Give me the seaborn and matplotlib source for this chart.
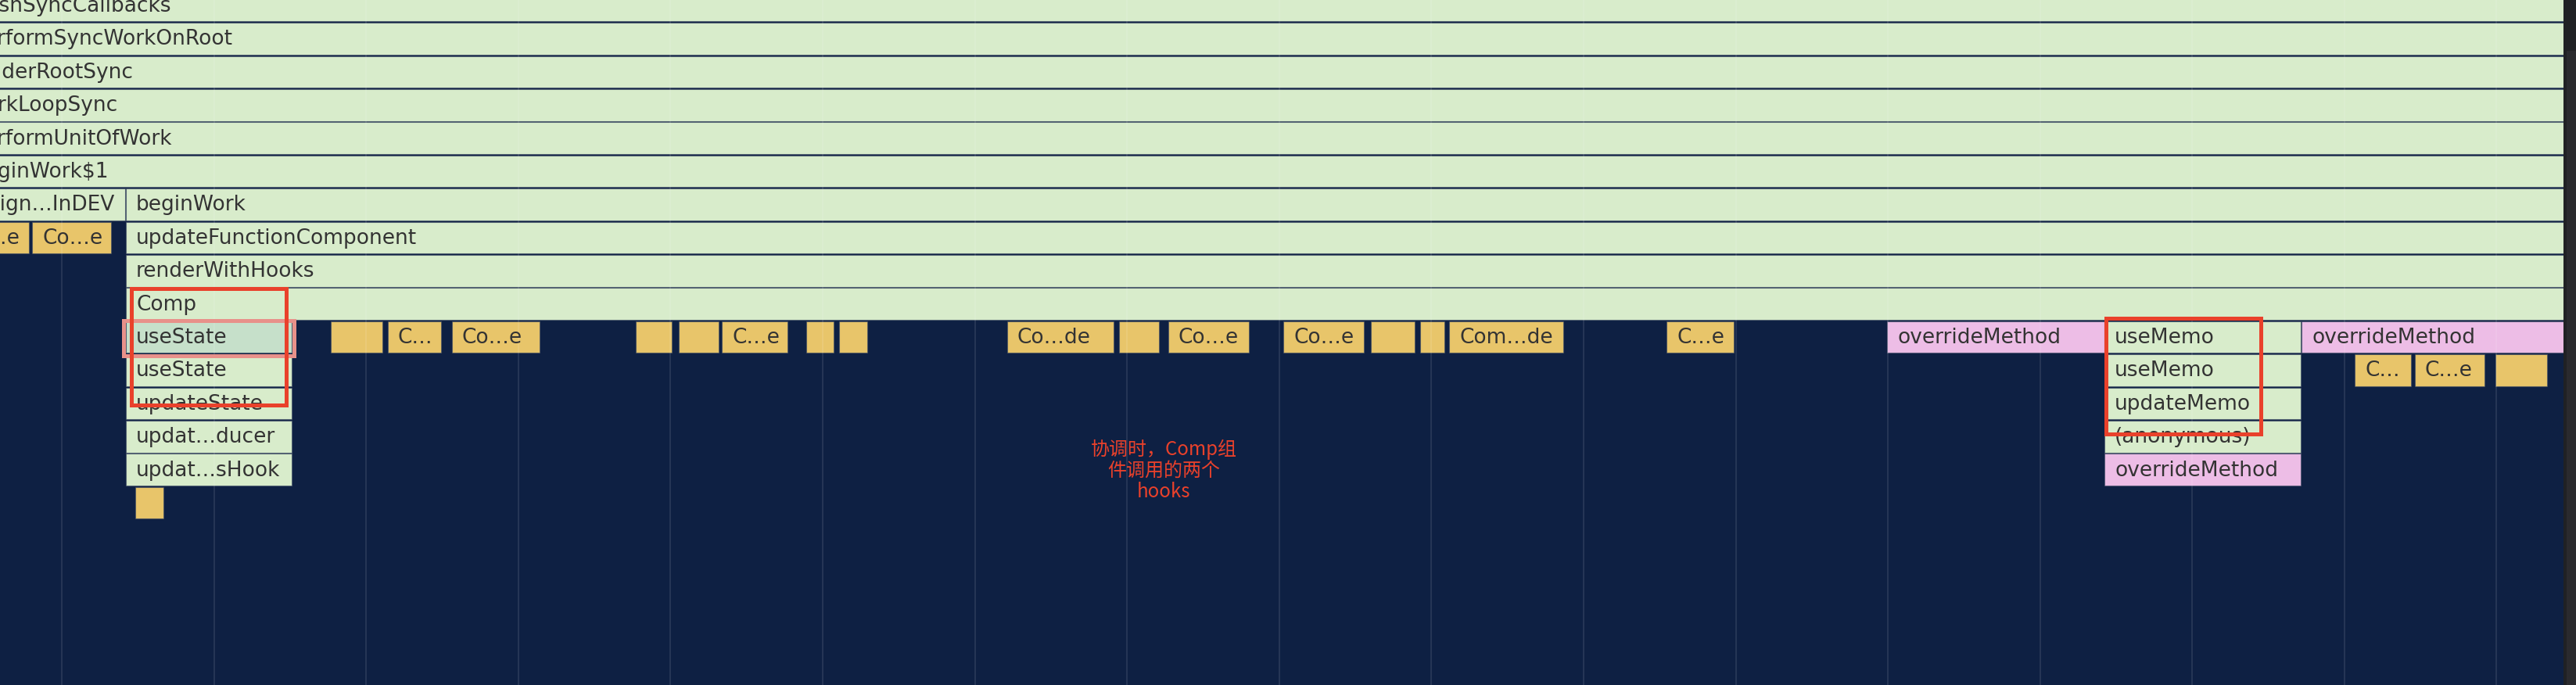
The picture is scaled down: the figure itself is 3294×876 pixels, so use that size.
import pandas as pd
import seaborn as sns
import matplotlib.pyplot as plt
from matplotlib.patches import Rectangle

# flame chart frames (x in timeline units, row = stack depth)
labels = ['flushSyncCallbacks', 'performSyncWorkOnRoot', 'renderRootSync',
          'workLoopSync', 'performUnitOfWork', 'beginWork$1',
          'assign…InDEV', 'beginWork',
          'C…e', 'Co…e', 'updateFunctionComponent',
          'renderWithHooks',
          'Comp',
          'useState', '', 'C…', 'Co…e', '', '', 'C…e', '', '', 'Co…de', '',
          'Co…e', 'Co…e', '', '', 'Com…de', 'C…e', 'overrideMethod',
          'useMemo', 'overrideMethod',
          'useState', 'useMemo', 'C…', 'C…e', '',
          'updateState', 'updateMemo',
          'updat…ducer', '(anonymous)',
          'updat…sHook', 'overrideMethod',
          '']
rows = [0, 1, 2, 3, 4, 5,
        6, 6,
        7, 7, 7,
        8,
        9,
        10, 10, 10, 10, 10, 10, 10, 10, 10, 10, 10,
        10, 10, 10, 10, 10, 10, 10,
        10, 10,
        11, 11, 11, 11, 11,
        12, 12,
        13, 13,
        14, 14,
        15]
starts = [-48, -49, -53, -53, -49, -48,
          -57, 161,
          -49, 41, 161,
          161,
          161,
          161, 423, 496, 578, 813, 868, 923, 1031, 1073, 1288, 1431,
          1494, 1641, 1753, 1816, 1853, 2131, 2413,
          2691, 2943,
          161, 2691, 3011, 3088, 3191,
          161, 2691,
          161, 2691,
          161, 2691,
          173]
ends = [3278, 3278, 3278, 3278, 3278, 3278,
        160, 3278,
        37, 142, 3278,
        3278,
        3278,
        373, 489, 564, 690, 859, 919, 1007, 1066, 1109, 1424, 1482,
        1597, 1744, 1809, 1847, 1999, 2217, 2691,
        2942, 3278,
        373, 2942, 3083, 3177, 3257,
        373, 2942,
        373, 2942,
        373, 2942,
        209]
kinds = ['js'] * 6 + ['js', 'js'] + ['other', 'other', 'js'] + ['js'] + ['js'] + \
        ['selected'] + ['other'] * 16 + ['ext', 'js', 'ext'] + \
        ['js', 'js', 'other', 'other', 'other'] + ['js', 'js'] + ['js', 'js'] + \
        ['js', 'ext'] + ['other']

grid_ticks = [79, 274, 468, 663, 857, 1052, 1247, 1441, 1636, 1830, 2025,
              2220, 2414, 2609, 2803, 2998, 3192]

note_text = '协调时，Comp组\n件调用的两个\nhooks'

frames = pd.DataFrame({'label': labels, 'row': rows, 'start': starts,
                       'end': ends, 'kind': kinds})
frames['width'] = frames['end'] - frames['start']

navy = '#0e2043'
palette = {'js': '#d8eccb', 'selected': '#c6e0ca', 'other': '#e8c56a',
           'ext': '#edbde6'}

sns.set_theme(style='dark', rc={'axes.facecolor': navy,
                                'figure.facecolor': navy})
plt.rcParams['font.family'] = ['DejaVu Sans', 'Noto Sans CJK SC']

fig = plt.figure(figsize=(32.94, 8.76), dpi=100)
ax = fig.add_axes([0, 0, 1, 1])
ax.set_xlim(0, 3294)
ax.set_ylim(20.493, -0.1675)
ax.set_axis_off()
ax.add_patch(Rectangle((-100, -1), 3500, 23, facecolor=navy,
                       edgecolor='none', linewidth=0, zorder=0))

ax.barh(frames['row'], frames['width'], left=frames['start'], height=0.955,
        color=[palette[k] for k in frames['kind']],
        edgecolor=(0.25, 0.3, 0.4, 0.6), linewidth=0.8, zorder=2)

for _, f in frames.iterrows():
    if f['label']:
        ax.text(f['start'] + 13, f['row'] + 0.02, f['label'], fontsize=19,
                color='#333333', va='center', ha='left', zorder=4,
                clip_on=True)

ax.vlines(grid_ticks, -1, 22, colors='white', alpha=0.1, linewidth=1.4,
          zorder=3)

# selected frame outline
ax.add_patch(Rectangle((158, 9.5), 218, 1.065, fill=False,
                       edgecolor='#e8918a', linewidth=3.6, zorder=5))

# red annotation boxes
ax.add_patch(Rectangle((167.5, 8.547), 198, 3.514, fill=False,
                       edgecolor='#e9412b', linewidth=3.6, zorder=6))
ax.add_patch(Rectangle((2693, 9.42), 198, 3.5, fill=False,
                       edgecolor='#e9412b', linewidth=3.6, zorder=6))
ax.text(1488, 14.03, note_text, fontsize=17.3, color='#e9412b',
        ha='center', va='center', multialignment='center', linespacing=1.05,
        family=['Noto Sans CJK SC', 'DejaVu Sans'], zorder=6)

# panel edge and scrollbar
ax.add_patch(Rectangle((3278, -1), 16, 23, facecolor='#202124',
                       edgecolor='none', zorder=7))
ax.add_patch(Rectangle((3282, 1.37), 12, 21, facecolor='#2a2a2e',
                       edgecolor='none', zorder=8))

fig.savefig('out.png', dpi=100, facecolor=navy)
